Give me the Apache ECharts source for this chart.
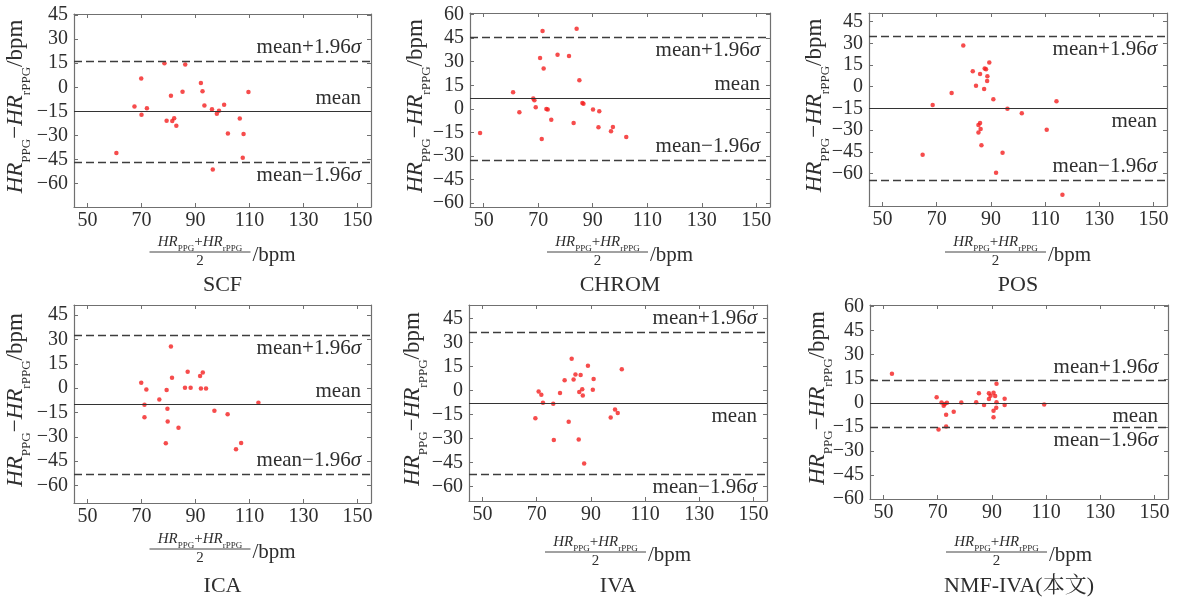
<!DOCTYPE html>
<html><head><meta charset="utf-8">
<script src="https://cdn.jsdelivr.net/npm/echarts@6/dist/echarts.min.js"></script>
<style>html,body{margin:0;padding:0;background:#fff}#c{width:1178px;height:598px}</style>
</head><body><div id="c"></div>
<script>
// ---------- data ----------
const panelNames = ['SCF', 'CHROM', 'POS', 'ICA', 'IVA', 'NMF-IVA(本文)'];
const xTicks = [50, 70, 90, 110, 130, 150];
const yTicks45 = [-60, -45, -30, -15, 0, 15, 30, 45];
const yTicks60 = [-60, -45, -30, -15, 0, 15, 30, 45, 60];

const scfX = [60.7, 67.4, 69.9, 70.0, 72.0, 78.5, 79.3, 80.9, 81.4, 82.1, 82.9, 85.2, 86.2, 92.0, 92.6, 93.3, 96.1, 96.4, 97.9, 98.7, 100.6, 102.0, 106.4, 107.5, 107.8, 109.6];
const scfY = [-40.9, -11.9, 5.5, -17.1, -13.0, 15.0, -20.8, -5.3, -21.0, -19.2, -23.9, -2.8, 14.2, 2.6, -2.4, -11.3, -13.6, -51.1, -16.5, -14.6, -10.9, -28.7, -19.4, -43.8, -29.1, -3.0];

const chromX = [48.7, 60.8, 63.1, 68.2, 68.6, 69.1, 70.7, 71.3, 71.6, 72.0, 73.0, 73.5, 74.8, 77.1, 81.3, 83.0, 84.1, 85.1, 86.2, 86.6, 90.1, 92.1, 92.4, 96.7, 97.4, 102.3];
const chromY = [-15.4, 10.5, -2.2, 6.5, 5.4, 1.0, 32.4, -19.2, 49.6, 25.6, -0.1, -0.5, -6.9, 34.5, 33.7, -9.0, 50.9, 18.2, 3.7, 3.3, -0.5, -11.8, -1.6, -14.3, -11.6, -18.0];

const posX = [64.8, 68.5, 75.5, 79.8, 83.3, 84.5, 86.0, 85.4, 86.0, 86.2, 85.4, 86.5, 87.5, 87.7, 88.2, 88.6, 88.7, 89.4, 90.9, 91.9, 94.3, 96.1, 101.4, 110.6, 114.2, 116.4];
const posY = [-47.0, -12.6, -4.4, 28.6, 10.7, 0.7, 8.8, -26.5, -25.1, -29.3, -31.6, -40.5, -1.6, 12.6, 12.1, 4.0, 7.2, 16.7, -8.6, -59.5, -45.6, -15.3, -18.4, -29.8, -10.0, -74.7];

const icaX = [69.9, 71.8, 71.1, 71.1, 76.6, 79.3, 79.6, 79.7, 79.0, 80.9, 81.3, 83.7, 86.1, 87.1, 88.2, 91.7, 92.7, 92.0, 93.9, 97.0, 101.9, 105.0, 106.9, 113.3];
const icaY = [3.3, -0.8, -10.2, -17.9, -7.1, -1.2, -12.8, -20.6, -34.0, 25.7, 6.3, -24.5, 0.2, 10.0, 0.2, 7.5, 9.6, -0.2, -0.2, -13.9, -16.1, -37.7, -33.8, -9.0];

const ivaX = [69.5, 70.7, 71.7, 72.3, 76.1, 76.3, 78.6, 80.3, 81.8, 82.9, 83.6, 84.3, 85.5, 85.7, 86.2, 86.8, 87.0, 87.5, 88.9, 90.7, 91.0, 97.3, 98.9, 99.9, 101.4];
const ivaY = [-17.3, -0.6, -2.7, -7.7, -8.3, -30.8, -1.5, 6.4, -19.5, 19.8, 6.9, 10.0, -30.6, -1.0, 9.6, 0.8, -3.1, -45.5, 15.4, 0.4, 7.1, -16.8, -11.9, -14.1, 13.3];

const nmfX = [53.1, 69.6, 70.3, 71.4, 72.2, 72.6, 73.4, 73.1, 73.1, 75.9, 78.7, 84.2, 85.2, 87.1, 88.9, 88.9, 89.5, 90.6, 90.6, 90.6, 91.2, 91.7, 91.7, 91.6, 94.7, 94.7, 109.3];
const nmfY = [18.1, 3.5, -16.7, 0.2, -1.9, -0.8, 0.0, -7.5, -14.8, -5.6, 0.2, 0.4, 6.0, -1.3, 6.0, 2.3, 4.4, 6.3, -5.0, -9.0, 4.2, 11.9, 0.4, -3.1, 2.5, -1.3, -1.0];

const meanVals  = [-15.1, 6.6, -14.8, -10.2, -7.9, -0.4];
const upperVals = [16.5, 45.8, 34.9, 32.8, 36.5, 13.8];
const lowerVals = [-46.7, -32.6, -64.7, -53.2, -52.3, -15.0];

const xMin = 45, xMax = 155;
const yMins = [-74.5, -62.5, -82.5, -70.8, -68.9, -60];
const yMaxs = [45.6, 61, 51, 51.2, 53.3, 61];

// ---------- layout / style ----------
const boxes = [[74, 14, 371, 207], [470, 13, 770, 207], [869, 13, 1167, 206],
               [74, 305, 371, 503], [469, 305, 767, 501], [870, 305, 1168, 499]];
const yTitleOff = [58, 54, 54, 58, 56, 52];
const barY = [252, 252, 252, 549, 552, 552];
const titleY = [285, 285, 285, 586, 586, 586];
// label side for [upper, mean, lower]
const sides = [['top', 'top', 'bottom'], ['bottom', 'top', 'top'], ['bottom', 'bottom', 'top'],
               ['bottom', 'top', 'top'], ['top', 'bottom', 'bottom'], ['top', 'bottom', 'bottom']];

const FONT = '"Liberation Serif", "Times New Roman", serif';
const CJKFONT = '"Liberation Serif", "Noto Serif CJK SC", "Noto Sans CJK SC", serif';
const TXT = '#2e2e2e';
const AX = '#707070';

const xsAll = [scfX, chromX, posX, icaX, ivaX, nmfX];
const ysAll = [scfY, chromY, posY, icaY, ivaY, nmfY];
const yTickSets = [yTicks45, yTicks60, yTicks45, yTicks45, yTicks45, yTicks60];

const fmtNum = v => (v < 0 ? '\u2212' + Math.abs(v) : String(v));

const grid = [], xAxis = [], yAxis = [], series = [], graphic = [];

panelNames.forEach((name, i) => {
  const [l, t, r, b] = boxes[i];
  grid.push({left: l, top: t, width: r - l, height: b - t, containLabel: false, outerBoundsMode: 'none'});
  const axisLine = {show: true, onZero: false, lineStyle: {color: AX, width: 1.2}};
  const tickBase = {show: true, inside: true, length: 4, lineStyle: {color: AX, width: 1}};
  const labBase = {fontFamily: FONT, fontSize: 20, color: TXT};
  xAxis.push({type: 'value', gridIndex: i, min: xMin, max: xMax, position: 'bottom',
    axisLine, axisTick: Object.assign({customValues: xTicks}, tickBase),
    axisLabel: Object.assign({customValues: xTicks, margin: 4, formatter: fmtNum}, labBase),
    splitLine: {show: false}});
  xAxis.push({type: 'value', gridIndex: i, min: xMin, max: xMax, position: 'top',
    axisLine, axisTick: Object.assign({customValues: xTicks}, tickBase),
    axisLabel: {show: false}, splitLine: {show: false}});
  const yt = yTickSets[i];
  yAxis.push({type: 'value', gridIndex: i, min: yMins[i], max: yMaxs[i], position: 'left',
    axisLine, axisTick: Object.assign({customValues: yt}, tickBase),
    axisLabel: Object.assign({customValues: yt, margin: 6, formatter: fmtNum}, labBase),
    splitLine: {show: false}});
  yAxis.push({type: 'value', gridIndex: i, min: yMins[i], max: yMaxs[i], position: 'right',
    axisLine, axisTick: Object.assign({customValues: yt}, tickBase),
    axisLabel: {show: false}, splitLine: {show: false}});

  const mkLabel = (side, text) => ({
    show: true, position: side === 'top' ? 'insideEndTop' : 'insideEndBottom',
    distance: [10, 3], formatter: text, fontFamily: FONT, fontSize: 21, color: TXT,
    rich: {s: {fontStyle: 'italic', fontFamily: FONT, fontSize: 21, color: TXT}}
  });
  const dashed = {type: [8, 4], color: '#3d3d3d', width: 1.4};
  const solid = {type: 'solid', color: '#333', width: 1.2};

  series.push({
    type: 'scatter', xAxisIndex: 2 * i, yAxisIndex: 2 * i,
    data: xsAll[i].map((x, k) => [x, ysAll[i][k]]),
    symbol: 'circle', symbolSize: 4.5, itemStyle: {color: '#f41f1f'}, silent: true,
    markLine: {
      silent: true, symbol: ['none', 'none'], animation: false, precision: 2,
      data: [
        {yAxis: upperVals[i], lineStyle: dashed, label: mkLabel(sides[i][0], 'mean+1.96{s|σ}')},
        {yAxis: meanVals[i], lineStyle: solid, label: mkLabel(sides[i][1], 'mean')},
        {yAxis: lowerVals[i], lineStyle: dashed, label: mkLabel(sides[i][2], 'mean\u22121.96{s|σ}')}
      ]
    }
  });

  const cx = (l + r) / 2, cy = (t + b) / 2;
  // y-axis title
  graphic.push({
    type: 'text', x: l - yTitleOff[i], y: cy - 4, rotation: Math.PI / 2, silent: true,
    style: {
      text: '{hr|HR}{sb|PPG}{op|\u2212}{hr|HR}{sb|rPPG}{op|/bpm}',
      align: 'center', verticalAlign: 'middle', fill: TXT,
      rich: {
        hr: {fontFamily: FONT, fontStyle: 'italic', fontSize: 23, lineHeight: 23, verticalAlign: 'top', fill: TXT},
        sb: {fontFamily: FONT, fontSize: 13, lineHeight: 13, padding: [16, 0, 0, 0], verticalAlign: 'top', fill: TXT},
        op: {fontFamily: FONT, fontSize: 23, lineHeight: 23, verticalAlign: 'top', fill: TXT}
      }
    }
  });
  // x-axis title: fraction
  const fx = cx - 22.5, by = barY[i];
  graphic.push({
    type: 'text', x: fx, y: by - 1, silent: true,
    style: {
      text: '{hr|HR}{sb|PPG}{op|+}{hr|HR}{sb|rPPG}',
      align: 'center', verticalAlign: 'bottom', fill: TXT,
      rich: {
        hr: {fontFamily: FONT, fontStyle: 'italic', fontSize: 15, lineHeight: 16, verticalAlign: 'top', fill: TXT},
        sb: {fontFamily: FONT, fontSize: 9, lineHeight: 9, padding: [9, 0, 0, 0], verticalAlign: 'top', fill: TXT},
        op: {fontFamily: FONT, fontSize: 15, lineHeight: 16, verticalAlign: 'top', fill: TXT}
      }
    }
  });
  graphic.push({type: 'line', silent: true, shape: {x1: cx - 73, y1: by, x2: cx + 28, y2: by},
    style: {stroke: '#444', lineWidth: 1}});
  graphic.push({type: 'text', x: fx, y: by + 9.5, silent: true,
    style: {text: '2', fontFamily: FONT, fontSize: 15, fill: TXT, align: 'center', verticalAlign: 'middle'}});
  graphic.push({type: 'text', x: cx + 30, y: by + 3, silent: true,
    style: {text: '/bpm', fontFamily: FONT, fontSize: 21, fill: TXT, align: 'left', verticalAlign: 'middle'}});
  // panel title
  graphic.push({type: 'text', x: cx, y: titleY[i], silent: true,
    style: {text: name, fontFamily: CJKFONT, fontSize: 22, fill: TXT, align: 'center', verticalAlign: 'middle'}});
});

const chart = echarts.init(document.getElementById('c'), null, {renderer: 'canvas'});
chart.setOption({
  backgroundColor: '#fff',
  animation: false,
  grid, xAxis, yAxis, series, graphic
});
</script>
</body></html>
